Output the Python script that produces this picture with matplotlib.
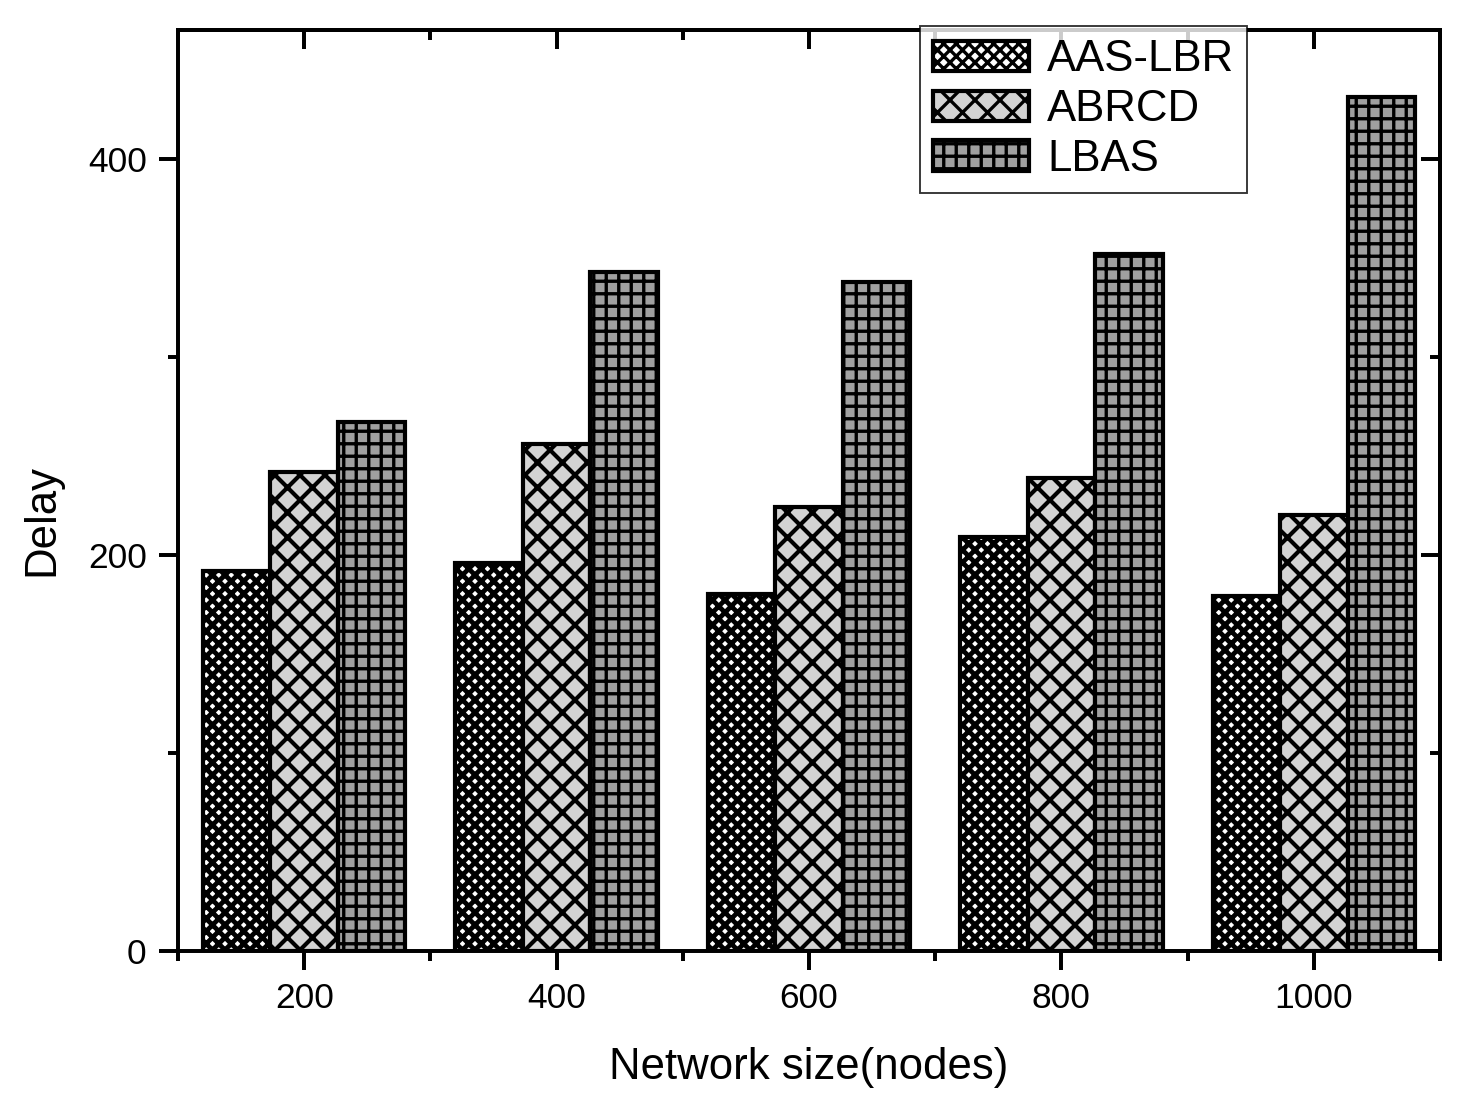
import numpy as np
import matplotlib
matplotlib.use("Agg")
import matplotlib.pyplot as plt
from matplotlib.ticker import MultipleLocator

plt.rcParams['font.family'] = ['Liberation Sans', 'DejaVu Sans']

# data
sizes = [200, 400, 600, 800, 1000]
aas_lbr = [192, 196, 180, 209, 179]
abrcd = [242, 256, 224, 239, 220]
lbas = [267, 343, 338, 352, 431]
series_names = ['AAS-LBR', 'ABRCD', 'LBAS']

fig = plt.figure(figsize=(1466 / 150, 1093 / 150), dpi=150)
ax = fig.add_axes([178 / 1466, 1 - 951 / 1093, (1440 - 178) / 1466, (951 - 30) / 1093])

x = np.array(sizes)
w = 53.5
styles = [
    dict(color='white', hatch='xxxx', hlw=2.3),
    dict(color='#d3d3d3', hatch='xx', hlw=2.0),
    dict(color='#a0a0a0', hatch='++', hlw=1.6),
]
for off, vals, name, st in zip([-w, 0, w], [aas_lbr, abrcd, lbas], series_names, styles):
    plt.rcParams['hatch.linewidth'] = st['hlw']
    ax.bar(x + off, vals, width=w, facecolor=st['color'], hatch=st['hatch'],
           edgecolor='black', linewidth=2.0, label=name, zorder=2)

ax.set_xlim(100, 1100)
ax.set_ylim(0, 465)
ax.set_xticks(sizes)
ax.xaxis.set_minor_locator(MultipleLocator(100))
ax.yaxis.set_major_locator(MultipleLocator(200))
ax.yaxis.set_minor_locator(MultipleLocator(100))

for s in ax.spines.values():
    s.set_linewidth(1.9)

ax.tick_params(axis='both', which='major', direction='out', length=9, width=1.9,
               labelsize=17, pad=6)
ax.tick_params(axis='both', which='minor', direction='out', length=4.8, width=1.9)

# mirrored ticks on top and right point inward
ax_top = ax.secondary_xaxis('top')
ax_top.set_xticks(sizes)
ax_top.xaxis.set_minor_locator(MultipleLocator(100))
ax_top.tick_params(which='major', direction='in', length=9, width=1.9, labeltop=False)
ax_top.tick_params(which='minor', direction='in', length=4.8, width=1.9)
ax_top.spines['top'].set_linewidth(1.9)
ax_right = ax.secondary_yaxis('right')
ax_right.yaxis.set_major_locator(MultipleLocator(200))
ax_right.yaxis.set_minor_locator(MultipleLocator(100))
ax_right.tick_params(which='major', direction='in', length=9, width=1.9, labelright=False)
ax_right.tick_params(which='minor', direction='in', length=4.8, width=1.9)
ax_right.spines['right'].set_linewidth(1.9)

ax.set_xlabel('Network size(nodes)', fontsize=21, labelpad=15)
ax.set_ylabel('Delay', fontsize=21)
ax.yaxis.set_label_coords(-0.092, 0.468)

leg = ax.legend(loc='upper left', bbox_to_anchor=(0.588, 1.004), fontsize=21,
                frameon=True, fancybox=False, edgecolor='black', borderaxespad=0,
                handlelength=2.2, handleheight=0.7, handletextpad=0.4,
                labelspacing=0.2, borderpad=0.3)
leg.get_frame().set_linewidth(0.9)
leg.set_zorder(5)

fig.savefig('out.png', dpi=150, facecolor='white')
